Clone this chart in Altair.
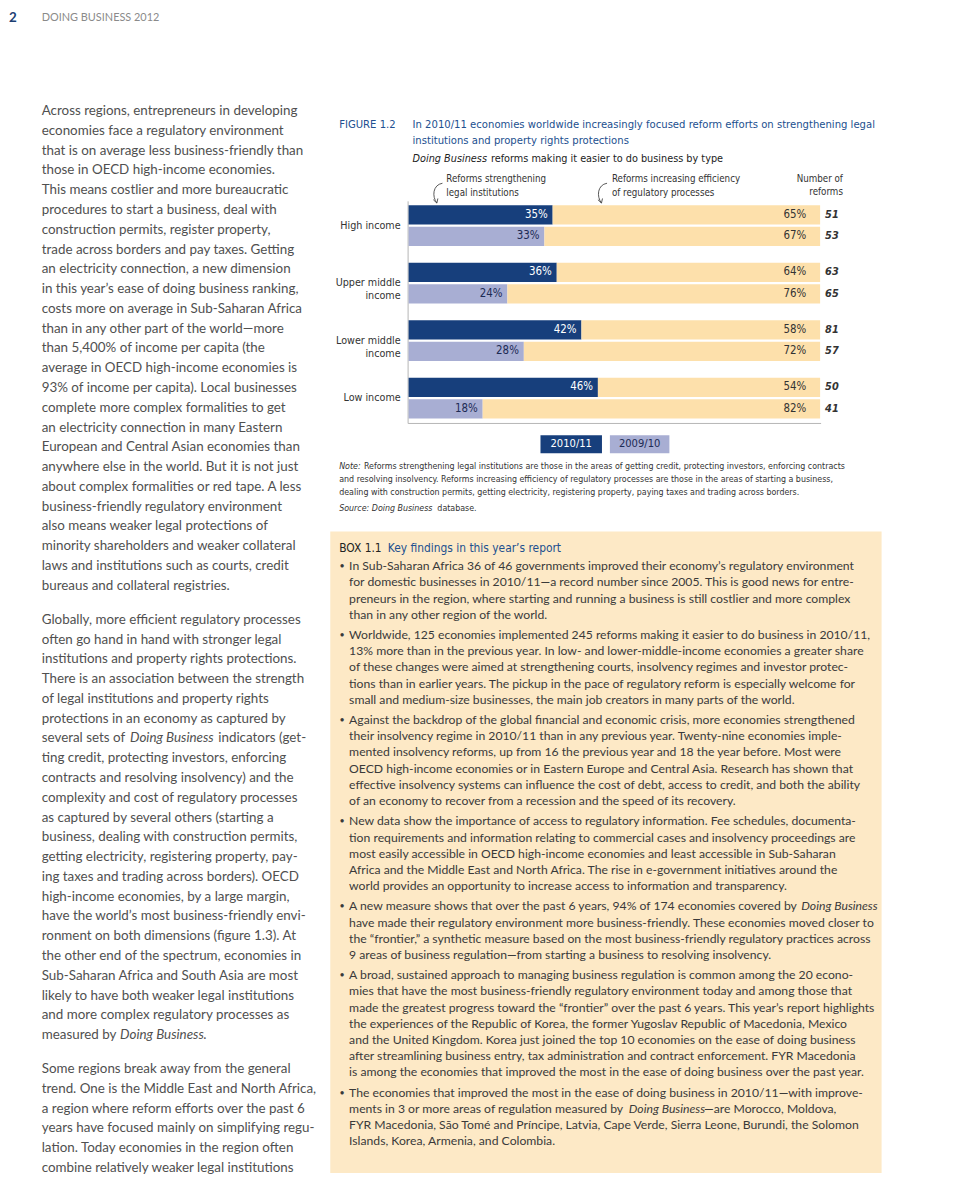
import altair as alt
import pandas as pd

OFF = 8  # page margin of the html page

# ---------------- data ----------------
groups = ["High income", "Upper middle income", "Lower middle income", "Low income"]
group_labels = ["High income", "Upper middle\nincome", "Lower middle\nincome", "Low income"]
years = ["2010/11", "2009/10"]
legal_2011 = [35, 36, 42, 46]
eff_2011 = [65, 64, 58, 54]
count_2011 = [51, 63, 81, 50]
legal_2010 = [33, 24, 28, 18]
eff_2010 = [67, 76, 72, 82]
count_2010 = [53, 65, 57, 41]

header_num = "2"
header_title = "DOING BUSINESS 2012"
fig_label = "FIGURE 1.2"
fig_title = ["In 2010/11 economies worldwide increasingly focused reform efforts on strengthening legal",
             "institutions and property rights protections"]
fig_sub_italic = "Doing Business"
fig_sub_rest = "reforms making it easier to do business by type"
annot_legal = ["Reforms strengthening", "legal institutions"]
annot_eff = ["Reforms increasing efficiency", "of regulatory processes"]
annot_num = ["Number of", "reforms"]
note_lines = [
    "Reforms strengthening legal institutions are those in the areas of getting credit, protecting investors, enforcing contracts",
    "and resolving insolvency. Reforms increasing efficiency of regulatory processes are those in the areas of starting a business,",
    "dealing with construction permits, getting electricity, registering property, paying taxes and trading across borders.",
]

para1 = [
    "Across regions, entrepreneurs in developing",
    "economies face a regulatory environment",
    "that is on average less business-friendly than",
    "those in OECD high-income economies.",
    "This means costlier and more bureaucratic",
    "procedures to start a business, deal with",
    "construction permits, register property,",
    "trade across borders and pay taxes. Getting",
    "an electricity connection, a new dimension",
    "in this year’s ease of doing business ranking,",
    "costs more on average in Sub-Saharan Africa",
    "than in any other part of the world—more",
    "than 5,400% of income per capita (the",
    "average in OECD high-income economies is",
    "93% of income per capita). Local businesses",
    "complete more complex formalities to get",
    "an electricity connection in many Eastern",
    "European and Central Asian economies than",
    "anywhere else in the world. But it is not just",
    "about complex formalities or red tape. A less",
    "business-friendly regulatory environment",
    "also means weaker legal protections of",
    "minority shareholders and weaker collateral",
    "laws and institutions such as courts, credit",
    "bureaus and collateral registries.",
]
para2 = [
    "Globally, more efficient regulatory processes",
    "often go hand in hand with stronger legal",
    "institutions and property rights protections.",
    "There is an association between the strength",
    "of legal institutions and property rights",
    "protections in an economy as captured by",
    [("several sets of", "n", 42), ("Doing Business", "i", 131), ("indicators (get-", "n", 220)],
    "ting credit, protecting investors, enforcing",
    "contracts and resolving insolvency) and the",
    "complexity and cost of regulatory processes",
    "as captured by several others (starting a",
    "business, dealing with construction permits,",
    "getting electricity, registering property, pay-",
    "ing taxes and trading across borders). OECD",
    "high-income economies, by a large margin,",
    "have the world’s most business-friendly envi-",
    "ronment on both dimensions (figure 1.3). At",
    "the other end of the spectrum, economies in",
    "Sub-Saharan Africa and South Asia are most",
    "likely to have both weaker legal institutions",
    "and more complex regulatory processes as",
    [("measured by", "n", 42), ("Doing Business", "i", 121), (".", "n", 205)],
]
para3 = [
    "Some regions break away from the general",
    "trend. One is the Middle East and North Africa,",
    "a region where reform efforts over the past 6",
    "years have focused mainly on simplifying regu-",
    "lation. Today economies in the region often",
    "combine relatively weaker legal institutions",
]

box_label = "BOX 1.1"
box_title = "Key findings in this year’s report"
bullets = [
    ["In Sub-Saharan Africa 36 of 46 governments improved their economy’s regulatory environment",
     "for domestic businesses in 2010/11—a record number since 2005. This is good news for entre-",
     "preneurs in the region, where starting and running a business is still costlier and more complex",
     "than in any other region of the world."],
    ["Worldwide, 125 economies implemented 245 reforms making it easier to do business in 2010/11,",
     "13% more than in the previous year. In low- and lower-middle-income economies a greater share",
     "of these changes were aimed at strengthening courts, insolvency regimes and investor protec-",
     "tions than in earlier years. The pickup in the pace of regulatory reform is especially welcome for",
     "small and medium-size businesses, the main job creators in many parts of the world."],
    ["Against the backdrop of the global financial and economic crisis, more economies strengthened",
     "their insolvency regime in 2010/11 than in any previous year. Twenty-nine economies imple-",
     "mented insolvency reforms, up from 16 the previous year and 18 the year before. Most were",
     "OECD high-income economies or in Eastern Europe and Central Asia. Research has shown that",
     "effective insolvency systems can influence the cost of debt, access to credit, and both the ability",
     "of an economy to recover from a recession and the speed of its recovery."],
    ["New data show the importance of access to regulatory information. Fee schedules, documenta-",
     "tion requirements and information relating to commercial cases and insolvency proceedings are",
     "most easily accessible in OECD high-income economies and least accessible in Sub-Saharan",
     "Africa and the Middle East and North Africa. The rise in e-government initiatives around the",
     "world provides an opportunity to increase access to information and transparency."],
    [[("A new measure shows that over the past 6 years, 94% of 174 economies covered by", "n", 352),
      ("Doing Business", "i", 808)],
     "have made their regulatory environment more business-friendly. These economies moved closer to",
     "the “frontier,” a synthetic measure based on the most business-friendly regulatory practices across",
     "9 areas of business regulation—from starting a business to resolving insolvency."],
    ["A broad, sustained approach to managing business regulation is common among the 20 econo-",
     "mies that have the most business-friendly regulatory environment today and among those that",
     "made the greatest progress toward the “frontier” over the past 6 years. This year’s report highlights",
     "the experiences of the Republic of Korea, the former Yugoslav Republic of Macedonia, Mexico",
     "and the United Kingdom. Korea just joined the top 10 economies on the ease of doing business",
     "after streamlining business entry, tax administration and contract enforcement. FYR Macedonia",
     "is among the economies that improved the most in the ease of doing business over the past year."],
    ["The economies that improved the most in the ease of doing business in 2010/11—with improve-",
     [("ments in 3 or more areas of regulation measured by", "n", 352), ("Doing Business", "i", 634),
      ("—are Morocco, Moldova,", "n", 710)],
     "FYR Macedonia, São Tomé and Príncipe, Latvia, Cape Verde, Sierra Leone, Burundi, the Solomon",
     "Islands, Korea, Armenia, and Colombia."],
]

# ---------------- styles ----------------
NAVY = "#173f7c"
LAV = "#a8aed3"
BEIGE = "#fde0ab"
BOXBG = "#fde9c6"
BLUE = "#22508f"
BODY = "Lato"
COND = "Liberation Sans Narrow, DejaVu Sans Condensed, Roboto Condensed, Arial Narrow, sans-serif"


def text_layer(items, align="left", **props):
    df = pd.DataFrame(items, columns=["t", "x", "y"])
    df["x"] = df["x"] - OFF
    df["y"] = df["y"] - OFF
    return alt.Chart(df).mark_text(baseline="middle", align=align, **props).encode(
        x=alt.X("x:Q", scale=None, axis=None),
        y=alt.Y("y:Q", scale=None, axis=None),
        text="t:N",
    )


def collect(lines, x0, ys):
    norm, ital = [], []
    for line, yy in zip(lines, ys):
        if isinstance(line, list):
            for seg, st, xx in line:
                (ital if st == "i" else norm).append((seg, xx, yy))
        else:
            norm.append((line, x0, yy))
    return norm, ital


layers = []

# box background
layers.append(alt.Chart(pd.DataFrame({"a": [0]})).mark_rect(color=BOXBG).encode(
    x=alt.value(333 - OFF), x2=alt.value(889 - OFF), y=alt.value(531 - OFF), y2=alt.value(1178 - OFF)))

# header (page margin forces it a few pixels lower than the print)
layers.append(text_layer([(header_num, 9, 13)], font=BODY, fontSize=13.5, fontWeight="bold", color="#1d3f73"))
layers.append(text_layer([(header_title, 42, 13)], font=BODY, fontSize=11, color="#8a8a8a"))

# left column
LSTEP = 19.95
ln, li = [], []
for para, start in [(para1, 107), (para2, 620), (para3, 1073)]:
    n_, i_ = collect(para, 42, [start + k * LSTEP for k in range(len(para))])
    ln += n_
    li += i_
layers.append(text_layer(ln, font=BODY, fontSize=13.5, color="#505050"))
layers.append(text_layer(li, font=BODY, fontSize=13.5, color="#505050", fontStyle="italic"))

# figure header
layers.append(text_layer([(fig_label, 342, 121)], font=COND, fontSize=11.3, color=BLUE))
layers.append(text_layer([(fig_title[0], 416, 121), (fig_title[1], 416, 137)], font=COND, fontSize=11.3, color=BLUE))
layers.append(text_layer([(fig_sub_italic, 416, 155)], font=COND, fontSize=10.9, color="#222", fontStyle="italic"))
layers.append(text_layer([(fig_sub_rest, 495, 155)], font=COND, fontSize=10.9, color="#222"))
layers.append(text_layer([(annot_legal[0], 450, 176), (annot_legal[1], 450, 190),
                          (annot_eff[0], 617, 176), (annot_eff[1], 617, 190)],
                         font=COND, fontSize=9.8, color="#333"))
layers.append(text_layer([(annot_num[0], 850, 176), (annot_num[1], 850, 189)], align="right",
                         font=COND, fontSize=9.8, color="#333"))

# curved arrows
arrow_path = "M0.5,-1 C-0.45,-0.85 -0.55,0.3 -0.05,0.95 M-0.4,0.62 L-0.05,0.95 L0.05,0.5"
arr = pd.DataFrame({"x": [441 - OFF, 607 - OFF], "y": [190 - OFF, 190 - OFF]})
layers.append(alt.Chart(arr).mark_point(shape=arrow_path, filled=False, size=420, stroke="#444",
                                         strokeWidth=0.9, opacity=1).encode(
    x=alt.X("x:Q", scale=None, axis=None), y=alt.Y("y:Q", scale=None, axis=None)))

# bars
rows = []
for i, g in enumerate(groups):
    rows.append(dict(group=g, year=years[0], legal=legal_2011[i], eff=eff_2011[i], n=count_2011[i]))
    rows.append(dict(group=g, year=years[1], legal=legal_2010[i], eff=eff_2010[i], n=count_2010[i]))
bars_df = pd.DataFrame(rows)

xscale = alt.Scale(domain=[0, 100], range=[412 - OFF, 827 - OFF])
yscale = alt.Scale(domain=groups, range=[202 - OFF, 417 - OFF], paddingInner=17 / 58, paddingOuter=0)
yenc = alt.Y("group:N", sort=groups, scale=yscale, axis=None)
yoff = alt.YOffset("year:N", sort=years, scale=alt.Scale(domain=years, paddingInner=0.1, paddingOuter=0))

base = alt.Chart(bars_df).transform_calculate(
    zero="0", full="100",
    legal_lbl="datum.legal + '%'", eff_lbl="datum.eff + '%'", n_lbl="'' + datum.n")

legal_bars = base.mark_bar().encode(
    x=alt.X("zero:Q", scale=xscale, axis=None), x2="legal:Q", y=yenc, yOffset=yoff,
    color=alt.condition(alt.datum.year == years[0], alt.value(NAVY), alt.value(LAV)))
eff_bars = base.mark_bar(color=BEIGE).encode(
    x=alt.X("legal:Q", scale=xscale, axis=None), x2="full:Q", y=yenc, yOffset=yoff)
legal_txt = base.mark_text(align="right", dx=-5, font=COND, fontSize=11.5).encode(
    x=alt.X("legal:Q", scale=xscale, axis=None), y=yenc, yOffset=yoff, text="legal_lbl:N",
    color=alt.condition(alt.datum.year == years[0], alt.value("white"), alt.value("#1d2b55")))
eff_txt = base.mark_text(align="right", dx=-14, font=COND, fontSize=11.5, color="#333").encode(
    x=alt.X("full:Q", scale=xscale, axis=None), y=yenc, yOffset=yoff, text="eff_lbl:N")
n_txt = base.mark_text(align="left", dx=5, font=COND, fontSize=11, fontStyle="italic",
                       fontWeight="bold", color="#333").encode(
    x=alt.X("full:Q", scale=xscale, axis=None), y=yenc, yOffset=yoff, text="n_lbl:N")

glab = pd.DataFrame({"group": groups, "label": group_labels})
group_txt = alt.Chart(glab).mark_text(align="right", lineBreak="\n", font=COND, fontSize=10.8,
                                      lineHeight=13, color="#333").encode(
    x=alt.value(404 - OFF), y=yenc, text="label:N")

axis_v = alt.Chart(pd.DataFrame({"a": [0]})).mark_rule(color="#b5b5b5", strokeWidth=1).encode(
    x=alt.value(411.5 - OFF), y=alt.value(198 - OFF), y2=alt.value(422 - OFF))
axis_h = alt.Chart(pd.DataFrame({"a": [0]})).mark_rule(color="#b5b5b5", strokeWidth=1).encode(
    x=alt.value(411.5 - OFF), x2=alt.value(828 - OFF), y=alt.value(422 - OFF))

bar_block = alt.layer(legal_bars, eff_bars, legal_txt, eff_txt, n_txt, group_txt)
layers += [axis_v, axis_h, bar_block]

# legend boxes
one = pd.DataFrame({"a": [0]})
layers.append(alt.Chart(one).mark_rect(color=NAVY).encode(
    x=alt.value(545 - OFF), x2=alt.value(607 - OFF), y=alt.value(434 - OFF), y2=alt.value(452 - OFF)))
layers.append(alt.Chart(one).mark_rect(color=LAV).encode(
    x=alt.value(615 - OFF), x2=alt.value(675 - OFF), y=alt.value(434 - OFF), y2=alt.value(452 - OFF)))
layers.append(text_layer([(years[0], 576, 443)], align="center", font=COND, fontSize=11.2, color="white"))
layers.append(text_layer([(years[1], 645, 443)], align="center", font=COND, fontSize=11.2, color="#1d2b55"))

# note & source
layers.append(text_layer([("Note:", 342, 465), ("Source: Doing Business", 342, 507)],
                         font=COND, fontSize=8.9, color="#333", fontStyle="italic"))
layers.append(text_layer([(note_lines[0], 367, 465), (note_lines[1], 342, 478), (note_lines[2], 342, 491),
                          ("database.", 441, 507)], font=COND, fontSize=8.9, color="#333"))

# box
layers.append(text_layer([(box_label, 342, 548)], font=COND, fontSize=12, color="#222"))
layers.append(text_layer([(box_title, 391, 548)], font=COND, fontSize=12, color=BLUE))
BSTEP, BGAP = 16.35, 4.0
bn, bi, dots = [], [], []
y = 566
for bl in bullets:
    ys = [y + k * BSTEP for k in range(len(bl))]
    n_, i_ = collect(bl, 352, ys)
    bn += n_
    bi += i_
    dots.append(("•", 345, ys[0]))
    y = ys[-1] + BSTEP + BGAP
layers.append(text_layer(bn, font=BODY, fontSize=12.3, color="#3a3a3a"))
layers.append(text_layer(bi, font=BODY, fontSize=12.3, color="#3a3a3a", fontStyle="italic"))
layers.append(text_layer(dots, align="center", font=BODY, fontSize=9, color="#3a3a3a"))

chart = alt.layer(*layers).resolve_scale(x="independent", y="independent").properties(
    width=952, height=1174, padding=0, autosize=alt.AutoSizeParams(type="none"),
    background="white",
).configure_view(strokeWidth=0)

chart.save("out.html", embed_options={"renderer": "svg", "actions": False})
